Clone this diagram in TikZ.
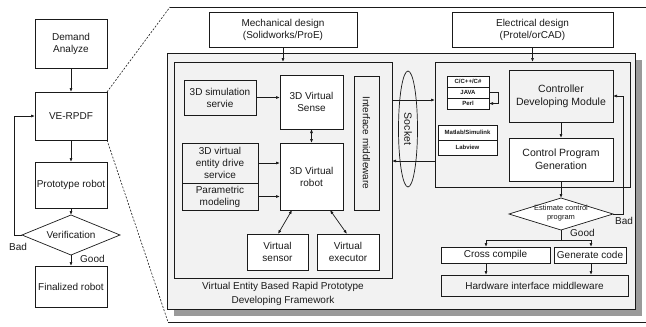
\documentclass[tikz,border=0pt]{standalone}
\usepackage{fontspec}
\setmainfont{Liberation Sans}
\usetikzlibrary{arrows.meta,shapes.geometric}
\definecolor{panel}{HTML}{F2F2F2}
\definecolor{shadowc}{HTML}{9A9A9A}
\definecolor{ink}{HTML}{1A1A1A}
\begin{document}
\begin{tikzpicture}[x=1pt,y=-1pt,
  every node/.style={text=ink},
  box/.style={draw=ink, line width=0.7pt, inner sep=0pt, outer sep=0pt, align=center,
     font=\fontsize{10}{12}\selectfont, fill=white},
  gbox/.style={box, fill=panel},
  lang/.style={box, font=\fontsize{6}{7}\selectfont\bfseries},
  dia/.style={diamond, draw=ink, line width=0.7pt, inner sep=0pt, outer sep=0pt, fill=white},
  lbl/.style={font=\fontsize{10}{12}\selectfont, inner sep=0pt},
  arr/.style={draw=ink, line width=0.7pt, -{Latex[length=4pt,width=3pt]}},
  darr/.style={draw=ink, line width=0.7pt, {Latex[length=4pt,width=3pt]}-{Latex[length=4pt,width=3pt]}},
  ln/.style={draw=ink, line width=0.7pt},
  dsh/.style={draw=ink, line width=0.6pt, dash pattern=on 2pt off 1.5pt}
]
\useasboundingbox (0,0) rectangle (646,327);

% ---------- left flow ----------
\node[box, minimum width=72pt, minimum height=49pt] (demand) at (71,43.5) {Demand\\Analyze};
\node[box, minimum width=72pt, minimum height=48pt] (verpdf) at (71,116) {VE-RPDF};
\node[box, minimum width=72pt, minimum height=46pt] (proto) at (71,185) {Prototype robot};
\node[dia, minimum width=98pt, minimum height=40pt] (verif) at (71,235) {};
\node[lbl] (veriflbl) at (verif.center) {Verification};
\node[box, minimum width=72pt, minimum height=41pt] (final) at (71,286.5) {Finalized robot};

\draw[arr] (demand.south) -- (verpdf.north);
\draw[arr] (verpdf.south) -- (proto.north);
\draw[arr] (proto.south) -- (verif.north);
\draw[arr] (verif.south) -- (final.north);
\draw[arr] (verif.west) -- ++(-8,0) |- (verpdf.west);
\node[lbl, anchor=west] (badl) at (9,247) {Bad};
\node[lbl, anchor=west] (goodl) at (80,259) {Good};

% ---------- zoom outline ----------
\coordinate (zt) at (170,7);
\coordinate (ztr) at (646,7);
\coordinate (zb) at (168,322);
\coordinate (zbr) at (646,322);
\draw[dsh] (verpdf.north east) -- (zt);
\draw[ln] (zt) -- (ztr);
\draw[dsh] (verpdf.south east) -- (zb);
\draw[ln] (zb) -- (zbr);

% ---------- panel ----------
\fill[shadowc] (174,60) rectangle (642,316);
\draw[ln, fill=panel] (167,53) rectangle (635,309);

\node[box, minimum width=148pt, minimum height=35pt] (mech) at (283,29.5) {Mechanical design\\(Solidworks/ProE)};
\node[box, minimum width=161pt, minimum height=35pt] (elec) at (532.5,29.5) {Electrical design\\(Protel/orCAD)};

\node[gbox, minimum width=218pt, minimum height=216pt] (lbox) at (283,170) {};
\node[lbl, align=center, font=\fontsize{10}{14}\selectfont] (cap) at (283,294) {Virtual Entity Based Rapid Prototype\\Developing Framework};

\node[gbox, minimum width=195pt, minimum height=125pt] (rbox) at (532.5,124.5) {};

\draw[arr] (mech.south) -- (lbox.north);
\draw[arr] (elec.south) -- (rbox.north);

% left inner
\node[gbox, minimum width=72pt, minimum height=35pt] (sim) at (220,97.5) {3D simulation\\servie};
\node[box, minimum width=63pt, minimum height=54pt] (sense) at (311.5,102) {3D Virtual\\Sense};
\node[gbox, minimum width=25pt, minimum height=134pt] (imw) at (366.5,143) {};
\node[lbl, rotate=-90] (imwl) at (imw.center) {Interface middleware};
\node[box, minimum width=63pt, minimum height=67pt] (robot) at (311.5,176.5) {3D Virtual\\robot};
\node[gbox, minimum width=76pt, minimum height=40pt] (drive) at (220,163) {3D virtual\\entity drive\\service};
\node[gbox, minimum width=76pt, minimum height=27pt] (param) at (220,196.5) {Parametric\\modeling};
\node[box, minimum width=61pt, minimum height=36pt] (vsensor) at (277.5,252) {Virtual\\sensor};
\node[box, minimum width=62pt, minimum height=36pt] (vexec) at (348,252) {Virtual\\executor};

\draw[arr] (sim.east) -- (sim.east -| sense.west);
\draw[darr] (sense.south) -- (robot.north);
\draw[arr] (drive.east) -- (drive.east -| robot.west);
\draw[arr] (param.east) -- (param.east -| robot.west);
\draw[darr] ([xshift=12pt]robot.south west) -- ([xshift=31pt]vsensor.north west);
\draw[darr] ([xshift=50pt]robot.south west) -- ([xshift=30pt]vexec.north west);

% socket
\node[ellipse, draw=ink, line width=0.7pt, minimum width=19pt, minimum height=116pt, inner sep=0pt] (sock) at (408,129) {};
\node[lbl, rotate=-90, font=\fontsize{10.5}{12}\selectfont] (sockl) at (sock.center) {Socket};
\draw[arr] (lbox.east |- 0,100) -- (rbox.west |- 0,100);
\draw[arr] (rbox.west |- 0,161) -- (lbox.east |- 0,161);

% right inner
\node[lang, minimum width=42pt, minimum height=11pt] (cpp) at (468,81.5) {C/C++/C\#};
\node[lang, minimum width=42pt, minimum height=11pt] (java) at (468,92.5) {JAVA};
\node[lang, minimum width=42pt, minimum height=11pt] (perl) at (468,103.5) {Perl};
\draw[arr] (java.east) -- ++(9,0) |- (perl.east);
\node[lang, minimum width=59pt, minimum height=15pt] (matlab) at (467.5,132.5) {Matlab/Simulink};
\node[lang, minimum width=59pt, minimum height=15pt] (labview) at (467.5,147.5) {Labview};

\node[gbox, minimum width=104pt, minimum height=52pt, font=\fontsize{10.5}{13}\selectfont] (cdm) at (561,96) {Controller\\Developing Module};
\node[box, minimum width=104pt, minimum height=43pt, font=\fontsize{10.5}{13}\selectfont] (cpg) at (561,159.5) {Control Program\\Generation};
\node[dia, minimum width=104pt, minimum height=32pt] (est) at (561,214) {};
\node[lbl, align=center, font=\fontsize{7.5}{9}\selectfont] (estl) at (561,213) {Estimate control\\program};

\draw[arr] (cdm.south) -- (cpg.north);
\draw[arr] (cpg.south) -- (est.north);
\draw[arr] (est.east) -- ++(10,0) |- (cdm.east);
\node[lbl, anchor=west] (badr) at (615,221) {Bad};
\node[lbl, anchor=west] (goodr) at (570,233) {Good};

\node[box, minimum width=109pt, minimum height=16pt] (cross) at (495.5,255) {Cross compile};
\node[box, minimum width=72pt, minimum height=16pt] (gen) at (590,255) {Generate code};
\node[gbox, minimum width=187pt, minimum height=21pt] (him) at (534.5,285.5) {Hardware interface middleware};

\coordinate (sp) at (561,240);
\draw[ln] (est.south) -- (sp);
\draw[arr] (sp) -| ([xshift=-9.5pt]cross.north);
\draw[arr] (sp) -| ([xshift=1pt]gen.north);
\draw[arr] ([xshift=-9.5pt]cross.south) -- ([xshift=-9.5pt]cross.south |- him.north);
\draw[arr] ([xshift=1pt]gen.south) -- ([xshift=1pt]gen.south |- him.north);
\end{tikzpicture}
\end{document}
